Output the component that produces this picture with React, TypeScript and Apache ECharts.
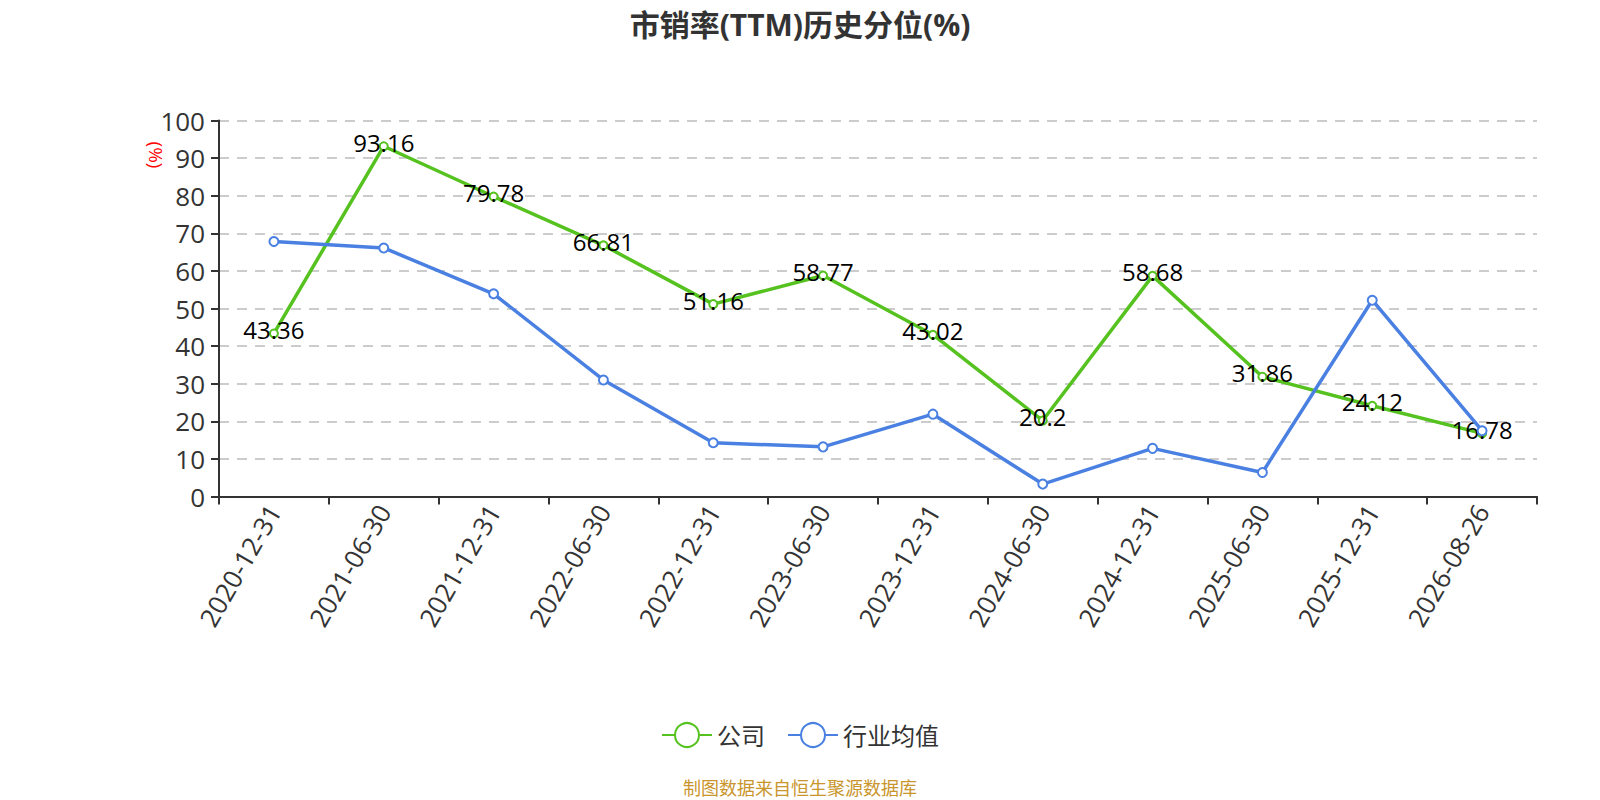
import React, { useEffect, useRef } from "react";
import * as echarts from "echarts";

const categories = [
  "2020-12-31", "2021-06-30", "2021-12-31", "2022-06-30", "2022-12-31", "2023-06-30",
  "2023-12-31", "2024-06-30", "2024-12-31", "2025-06-30", "2025-12-31", "2026-08-26",
];
const companyValues = [43.36, 93.16, 79.78, 66.81, 51.16, 58.77, 43.02, 20.2, 58.68, 31.86, 24.12, 16.78];
const industryValues = [67.8, 66.1, 53.9, 31.0, 14.3, 13.2, 21.9, 3.3, 12.8, 6.4, 52.2, 17.5];
const seriesNames = ["公司", "行业均值"];
const titleText = "市销率(TTM)历史分位(%)";
const sourceText = "制图数据来自恒生聚源数据库";

const FONT = "'Open Sans', 'Noto Sans CJK SC', sans-serif";
const GREEN = "#55c21f";
const BLUE = "#4a80e2";

export default function App() {
  const ref = useRef<HTMLDivElement>(null);
  useEffect(() => {
    if (!ref.current) return;
    const chart = echarts.init(ref.current, undefined, { renderer: "svg" });
    chart.setOption({
      animation: false,
      textStyle: { fontFamily: FONT },
      title: {
        text: titleText,
        left: "center",
        top: 4,
        textStyle: { fontSize: 30, fontWeight: "bold", color: "#333", fontFamily: FONT },
      },
      grid: { left: 219, right: 63, top: 120.5, bottom: 303.5, containLabel: false },
      legend: {
        data: seriesNames,
        left: "center",
        top: 717,
        itemWidth: 50,
        itemHeight: 30,
        itemGap: 22,
        textStyle: { fontSize: 24, color: "#333", fontFamily: FONT },
      },
      xAxis: {
        type: "category",
        data: categories,
        boundaryGap: true,
        axisLine: { lineStyle: { color: "#333", width: 2 } },
        axisTick: { show: true, length: 8, lineStyle: { color: "#333", width: 2 } },
        axisLabel: { rotate: 60, fontSize: 26, color: "#333", margin: 10, interval: 0, fontFamily: FONT },
      },
      yAxis: {
        type: "value",
        min: 0,
        max: 100,
        interval: 10,
        axisLine: { show: true, lineStyle: { color: "#333", width: 2 } },
        axisTick: { show: true, length: 8, lineStyle: { color: "#333", width: 2 } },
        axisLabel: { fontSize: 26, color: "#333", margin: 14, fontFamily: FONT },
        splitLine: { show: true, lineStyle: { color: "#ccc", type: [10, 8], width: 2 } },
      },
      graphic: [
        {
          type: "text",
          x: 156,
          y: 155,
          rotation: -Math.PI / 2,
          style: {
            text: "(%)",
            fill: "#ff0000",
            fontSize: 19,
            align: "center",
            verticalAlign: "middle",
            fontFamily: FONT,
          },
        },
        {
          type: "text",
          x: 800,
          y: 788,
          style: {
            text: sourceText,
            fill: "#c9962d",
            fontSize: 18,
            align: "center",
            verticalAlign: "middle",
            fontFamily: FONT,
          },
        },
      ],
      series: [
        {
          name: seriesNames[0],
          type: "line",
          data: companyValues,
          symbol: "emptyCircle",
          symbolSize: 8,
          color: GREEN,
          lineStyle: { width: 3.5, color: GREEN },
          itemStyle: { color: GREEN, borderWidth: 2 },
          label: {
            show: true,
            position: "inside",
            offset: [0, -4],
            fontSize: 24,
            color: "#000",
            fontFamily: FONT,
          },
          z: 2,
        },
        {
          name: seriesNames[1],
          type: "line",
          data: industryValues,
          symbol: "emptyCircle",
          symbolSize: 9,
          color: BLUE,
          lineStyle: { width: 3.5, color: BLUE },
          itemStyle: { color: BLUE, borderWidth: 2 },
          label: { show: false },
          z: 3,
        },
      ],
    });
    return () => chart.dispose();
  }, []);
  return (
    <div
      ref={ref}
      style={{ position: "fixed", left: 0, top: 0, width: 1600, height: 800, background: "#fff" }}
    />
  );
}
